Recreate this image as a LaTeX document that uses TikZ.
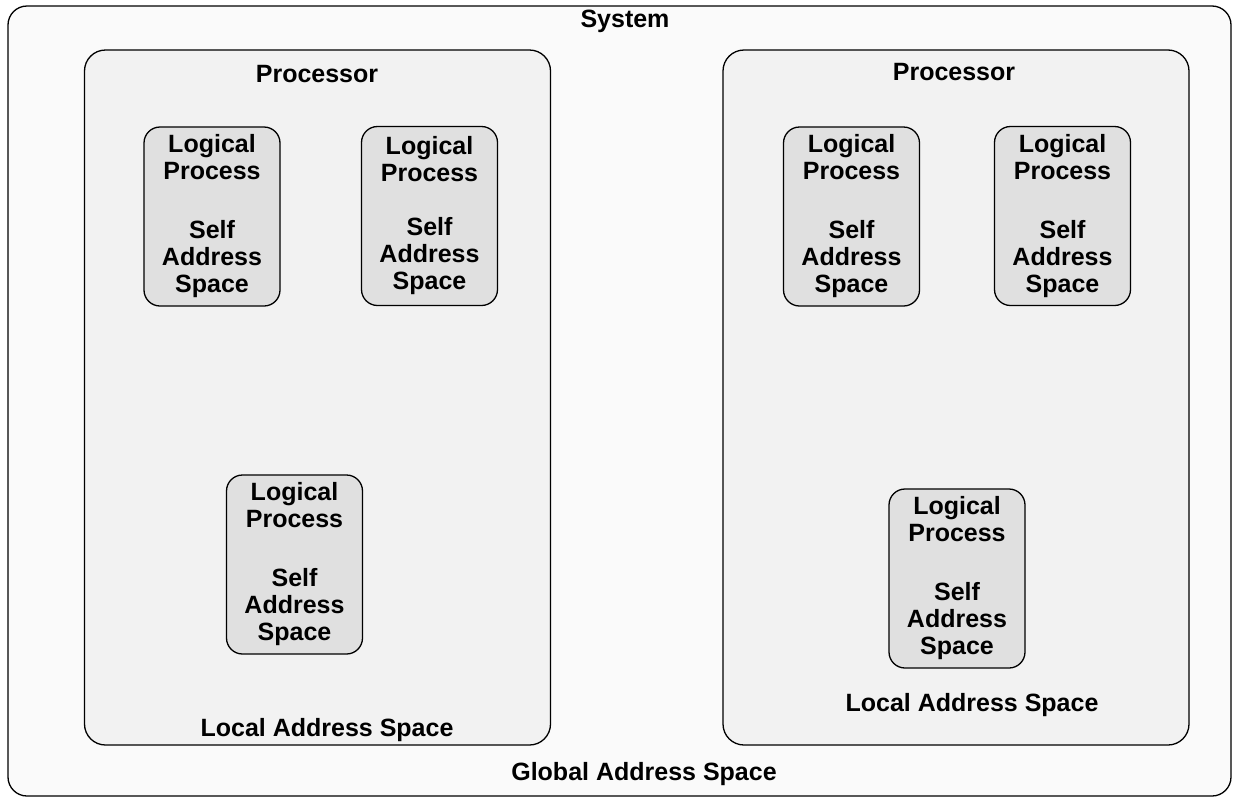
\documentclass[tikz,border=0pt]{standalone}
\usepackage{fontspec}
\setmainfont{Liberation Sans}
\usepackage{xcolor}
\definecolor{sysfill}{HTML}{FAFAFA}
\definecolor{procfill}{HTML}{F2F2F2}
\definecolor{lpfill}{HTML}{E0E0E0}
\begin{document}
\begin{tikzpicture}[x=1pt,y=-1pt]
        \tikzstyle{every node}+=[inner sep=0pt,font=\fontsize{25}{27}\selectfont\bfseries]
        \tikzstyle{sysbox}=[draw=black,line width=1.3pt,fill=sysfill,rounded corners=19pt]
        \tikzstyle{procbox}=[draw=black,line width=1.3pt,fill=procfill,rounded corners=21pt,minimum width=466pt,minimum height=695pt]
        \tikzstyle{lpbox}=[draw=black,line width=1.3pt,fill=lpfill,rounded corners=16pt,minimum width=136pt,minimum height=179pt,align=center]
        \useasboundingbox (0,0) rectangle (1239,801);
        % system and the two processors
        \node [sysbox,minimum width=1223pt,minimum height=790pt] (sys) at (619.5,401) {};
        \node [procbox] (procA) at (317.5,397.5) {};
        \node [procbox] (procB) at (956,397.5) {};
        \draw (625,21) node (sysname) {System};
        \draw (644,774) node (gas) {Global Address Space};
        \draw (317,74) node (procAname) {Processor};
        \draw (954,72) node (procBname) {Processor};
        \draw (327,730) node (lasA) {Local Address Space};
        \draw (972,705) node (lasB) {Local Address Space};
        % logical processes
        \node [lpbox] (lpA1) at (212,216.5) {Logical\\Process\\[32pt]Self\\Address\\Space};
        \node [lpbox] (lpA2) at (429.5,216) {Logical\\Process\\[27pt]Self\\Address\\Space};
        \node [lpbox] (lpA3) at (294.5,564.5) {Logical\\Process\\[32pt]Self\\Address\\Space};
        \node [lpbox] (lpB1) at (851.5,216.5) {Logical\\Process\\[32pt]Self\\Address\\Space};
        \node [lpbox] (lpB2) at (1062.5,216) {Logical\\Process\\[32pt]Self\\Address\\Space};
        \node [lpbox] (lpB3) at (957,578.5) {Logical\\Process\\[32pt]Self\\Address\\Space};
\end{tikzpicture}
\end{document}
